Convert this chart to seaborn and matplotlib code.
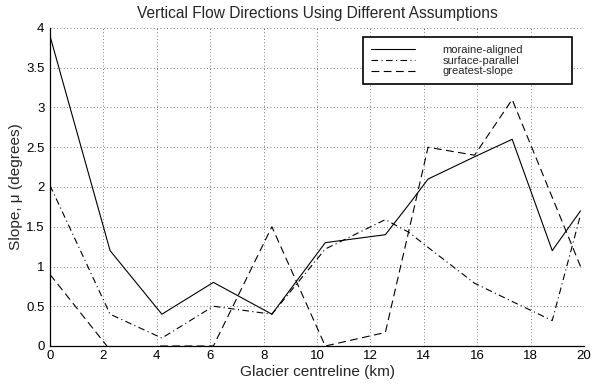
import numpy as np
import pandas as pd
import matplotlib
matplotlib.use("Agg")
import matplotlib.pyplot as plt
import seaborn as sns

# ---- data ----
km = [0.0, 2.25, 4.19, 6.12, 8.31, 10.31, 12.56, 13.44, 14.16, 15.9, 17.31, 18.81, 19.87]
moraine_aligned = [3.9, 1.2, 0.4, 0.8, 0.4, 1.3, 1.4, 1.78, 2.1, 2.38, 2.6, 1.2, 1.7]
surface_parallel = [2.02, 0.4, 0.1, 0.5, 0.4, 1.22, 1.59, 1.43, 1.24, 0.79, 0.56, 0.32, 1.65]
greatest_slope = [0.9, -0.05, 0.0, 0.0, 1.5, 0.0, 0.17, 1.45, 2.5, 2.4, 3.1, 1.87, 1.0]

series_names = ["moraine-aligned", "surface-parallel", "greatest-slope"]
x_ticks = [0, 2, 4, 6, 8, 10, 12, 14, 16, 18, 20]
y_ticks = [0, 0.5, 1, 1.5, 2, 2.5, 3, 3.5, 4]
y_tick_labels = ["0", "0.5", "1", "1.5", "2", "2.5", "3", "3.5", "4"]

df = pd.DataFrame({
    "km": km * 3,
    "slope": moraine_aligned + surface_parallel + greatest_slope,
    "series": sum([[n] * len(km) for n in series_names], []),
})

sns.set_theme(style="white")
plt.rcParams["font.family"] = ["Liberation Sans", "DejaVu Sans"]

fig = plt.figure(figsize=(5.93, 3.86), dpi=100)
ax = fig.add_axes([50 / 593, 40 / 386, 534 / 593, 318 / 386])

styles = {
    "moraine-aligned": "-",
    "surface-parallel": (0, (6, 3, 1, 3)),
    "greatest-slope": (0, (7, 4)),
}
for name in series_names:
    sub = df[df["series"] == name]
    sns.lineplot(data=sub, x="km", y="slope", ax=ax, color="black", lw=0.8,
                 linestyle=styles[name], label=name, estimator=None, sort=False)

ax.set_xlim(0, 20)
ax.set_ylim(0, 4)
ax.set_xticks(x_ticks)
ax.set_xticklabels([str(t) for t in x_ticks])
ax.set_yticks(y_ticks)
ax.set_yticklabels(y_tick_labels)
ax.tick_params(direction="in", length=4, width=0.8, labelsize=9.5,
               colors="black")
ax.tick_params(axis="y", pad=4)
ax.tick_params(axis="x", pad=3)
ax.grid(True, linestyle=(0, (1, 3)), color="black", lw=0.6, alpha=0.7)
for s in ["top", "right"]:
    ax.spines[s].set_visible(False)
for s in ["left", "bottom"]:
    ax.spines[s].set_color("black")
    ax.spines[s].set_linewidth(0.9)

ax.set_title("Vertical Flow Directions Using Different Assumptions",
             fontsize=11.2, pad=7)
ax.set_xlabel("Glacier centreline (km)", fontsize=11.1, labelpad=2)
ax.set_ylabel("Slope, \u03bc (degrees)", fontsize=11.1, labelpad=2)

leg = ax.legend(loc="upper left", bbox_to_anchor=(0.586, 0.972, 0.391, 0.0),
                mode="expand", fontsize=8, frameon=True, fancybox=False,
                edgecolor="black", framealpha=1, handlelength=4.0,
                handletextpad=2.45, labelspacing=0.08, borderpad=0.7,
                borderaxespad=0)
leg.get_frame().set_linewidth(1.2)
for t in leg.get_texts():
    t.set_ha("left")

fig.savefig("out.png", dpi=100)
